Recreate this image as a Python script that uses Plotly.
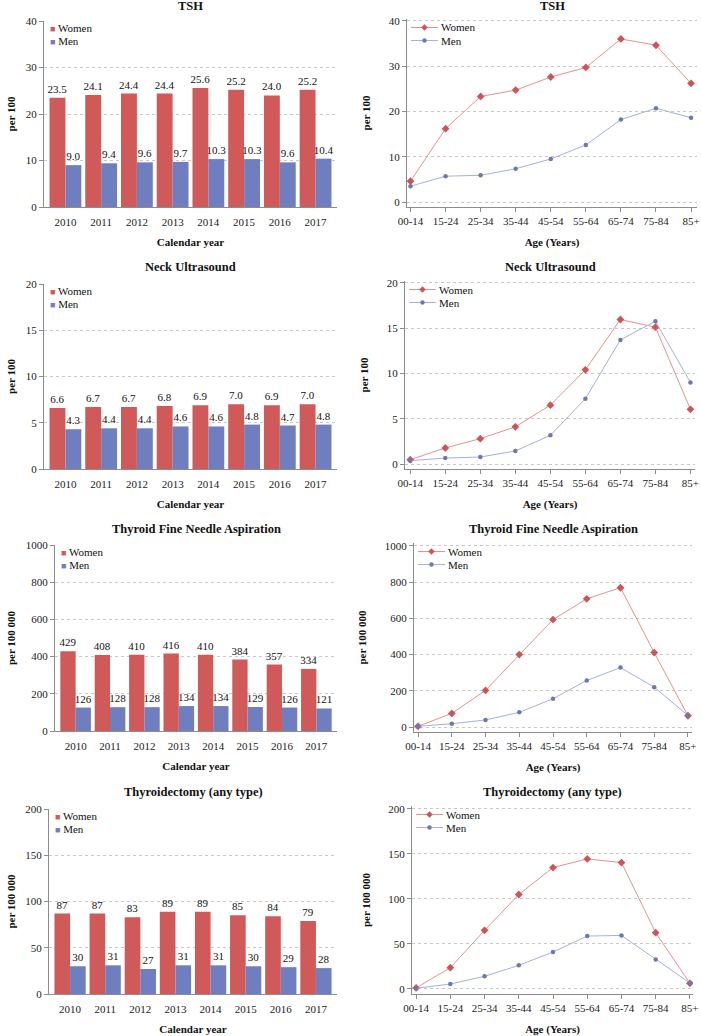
import plotly.graph_objects as go

W, H = 701, 1036

YEARS = ['2010', '2011', '2012', '2013', '2014', '2015', '2016', '2017']
AGES = ['00-14', '15-24', '25-34', '35-44', '45-54', '55-64', '65-74', '75-84', '85+']

# by calendar year
TSH_YEAR_WOMEN = [23.5, 24.1, 24.4, 24.4, 25.6, 25.2, 24.0, 25.2]
TSH_YEAR_MEN = [9.0, 9.4, 9.6, 9.7, 10.3, 10.3, 9.6, 10.4]
US_YEAR_WOMEN = [6.6, 6.7, 6.7, 6.8, 6.9, 7.0, 6.9, 7.0]
US_YEAR_MEN = [4.3, 4.4, 4.4, 4.6, 4.6, 4.8, 4.7, 4.8]
FNA_YEAR_WOMEN = [429, 408, 410, 416, 410, 384, 357, 334]
FNA_YEAR_MEN = [126, 128, 128, 134, 134, 129, 126, 121]
TX_YEAR_WOMEN = [87, 87, 83, 89, 89, 85, 84, 79]
TX_YEAR_MEN = [30, 31, 27, 31, 31, 30, 29, 28]

# by age group
TSH_AGE_WOMEN = [4.6, 16.2, 23.3, 24.7, 27.6, 29.7, 36.0, 34.6, 26.2]
TSH_AGE_MEN = [3.5, 5.7, 5.9, 7.35, 9.5, 12.6, 18.2, 20.7, 18.6]
US_AGE_WOMEN = [0.48, 1.77, 2.8, 4.1, 6.5, 10.4, 15.95, 15.1, 6.04]
US_AGE_MEN = [0.37, 0.66, 0.77, 1.44, 3.17, 7.2, 13.7, 15.76, 9.0]
FNA_AGE_WOMEN = [4, 75, 202, 400, 593, 708, 769, 411, 62]
FNA_AGE_MEN = [4, 18, 39, 81, 156, 257, 328, 220, 64]
TX_AGE_WOMEN = [1.1, 23.6, 65, 104.8, 134.7, 144.3, 140.2, 62.4, 6.3]
TX_AGE_MEN = [0.7, 5.5, 14, 26.2, 41, 58.7, 59.4, 32.8, 6.6]

TITLES = ['TSH', 'Neck Ultrasound', 'Thyroid Fine Needle Aspiration', 'Thyroidectomy (any type)']
UNITS = ['per 100', 'per 100', 'per 100 000', 'per 100 000']
YMAX = [40, 20, 1000, 200]
YSTEP = [10, 5, 200, 50]

WOMEN_BAR = '#D05A5A'
MEN_BAR = '#6F7EBF'
WOMEN_LINE = '#E89090'
WOMEN_MARK = '#CF5555'
MEN_LINE = '#A6B0DE'
MEN_MARK = '#6B78B6'
AXIS_COL = '#8C8C8C'
GRID_COL = '#C8C8C8'
FONT = 'Liberation Serif'

# plot boxes in pixels: left, top, right, bottom
LEFT_BOX = [(44, 21, 337, 207), (44, 284, 337, 469), (55, 545, 337, 731), (49, 809, 337, 994)]
RIGHT_BOX = [(407, 19, 697, 207), (405, 281, 695, 469), (414, 543, 692, 732), (412, 806, 693, 994)]
RIGHT_YPAD = [(-1.1, 40.4), (-0.55, 20.2), (-27.6, 1016), (-5.6, 203)]
RIGHT_XRANGE = [(-0.1, 8.17), (-0.15, 8.13), (-0.12, 8.12), (-0.12, 8.09)]
TITLE_Y = [6, 267, 529, 792]


def fx(p):
    return p / W


def fy(p):
    return 1 - p / H


bar_data = [(TSH_YEAR_WOMEN, TSH_YEAR_MEN), (US_YEAR_WOMEN, US_YEAR_MEN),
            (FNA_YEAR_WOMEN, FNA_YEAR_MEN), (TX_YEAR_WOMEN, TX_YEAR_MEN)]
line_data = [(TSH_AGE_WOMEN, TSH_AGE_MEN), (US_AGE_WOMEN, US_AGE_MEN),
             (FNA_AGE_WOMEN, FNA_AGE_MEN), (TX_AGE_WOMEN, TX_AGE_MEN)]

tick_font = dict(family=FONT, size=11, color='#222')
title_font = dict(family=FONT, size=11, color='#111', weight='bold')
key_font = dict(family=FONT, size=11, color='#111')

fig = go.Figure()
layout = {}
annotations = []
shapes = []


def line_key(x, y, name, line_col, mark_col, symbol):
    # small legend entry: line with a marker in the middle, then the label
    shapes.append(dict(type='line', xref='paper', yref='paper',
                       x0=fx(x), x1=fx(x + 27), y0=fy(y), y1=fy(y),
                       line=dict(color=line_col, width=1), layer='above'))
    cx, cy = x + 13.5, y
    if symbol == 'diamond':
        d = 3.3
        path = (f'M {fx(cx)},{fy(cy - d)} L {fx(cx + d)},{fy(cy)} '
                f'L {fx(cx)},{fy(cy + d)} L {fx(cx - d)},{fy(cy)} Z')
        shapes.append(dict(type='path', xref='paper', yref='paper', path=path,
                           fillcolor=mark_col, line=dict(width=0), layer='above'))
    else:
        r = 2.2
        shapes.append(dict(type='circle', xref='paper', yref='paper',
                           x0=fx(cx - r), x1=fx(cx + r), y0=fy(cy + r), y1=fy(cy - r),
                           fillcolor=mark_col, line=dict(width=0), layer='above'))
    annotations.append(dict(x=fx(x + 28), y=fy(y), xref='paper', yref='paper',
                            text=name, showarrow=False, xanchor='left', yanchor='middle',
                            font=key_font))


for i in range(4):
    li, ri = 2 * i + 1, 2 * i + 2
    fmt = '%{y:.1f}' if YMAX[i] <= 40 else '%{y:.0f}'

    for vals, name, col in ((bar_data[i][0], 'Women', WOMEN_BAR), (bar_data[i][1], 'Men', MEN_BAR)):
        fig.add_trace(go.Bar(
            x=YEARS, y=vals, name=name,
            marker=dict(color=col, line=dict(width=0)),
            texttemplate=fmt, textposition='outside', constraintext='none',
            textfont=dict(family=FONT, size=11, color='#111'),
            cliponaxis=False, showlegend=False,
            xaxis=f'x{li}', yaxis=f'y{li}',
        ))

    fig.add_trace(go.Scatter(
        x=AGES, y=line_data[i][0], name='Women', mode='lines+markers',
        line=dict(color=WOMEN_LINE, width=1),
        marker=dict(symbol='diamond', size=6, color=WOMEN_MARK),
        xaxis=f'x{ri}', yaxis=f'y{ri}', showlegend=False,
    ))
    fig.add_trace(go.Scatter(
        x=AGES, y=line_data[i][1], name='Men', mode='lines+markers',
        line=dict(color=MEN_LINE, width=1),
        marker=dict(symbol='circle', size=4.5, color=MEN_MARK),
        xaxis=f'x{ri}', yaxis=f'y{ri}', showlegend=False,
    ))

    ticks = list(range(0, YMAX[i] + 1, YSTEP[i]))
    common_y = dict(
        tickvals=ticks, tickfont=tick_font, ticks='outside', ticklen=4,
        tickcolor=AXIS_COL, showline=True, linecolor=AXIS_COL, linewidth=1,
        showgrid=True, gridcolor=GRID_COL, griddash='3px,3px', gridwidth=1,
        zeroline=False, automargin=False,
    )

    l0, t0, r0, b0 = LEFT_BOX[i]
    layout[f'xaxis{li}'] = dict(
        domain=[fx(l0), fx(r0)], anchor=f'y{li}', type='category',
        range=[-0.6, 7.6], tickfont=tick_font, ticks='outside', ticklen=5,
        tickcolor='rgba(0,0,0,0)', showline=True, linecolor=AXIS_COL,
        showgrid=False, zeroline=False, automargin=False,
        title=dict(text='Calendar year', font=title_font, standoff=11),
    )
    layout[f'yaxis{li}'] = dict(domain=[fy(b0), fy(t0)], anchor=f'x{li}',
                                range=[0, YMAX[i]],
                                title=dict(text=UNITS[i], font=title_font, standoff=7),
                                **common_y)

    l1, t1, r1, b1 = RIGHT_BOX[i]
    layout[f'xaxis{ri}'] = dict(
        domain=[fx(l1), fx(r1)], anchor=f'y{ri}', type='category',
        range=list(RIGHT_XRANGE[i]), tickfont=tick_font, ticks='outside', ticklen=4,
        tickcolor=AXIS_COL, showline=True, linecolor=AXIS_COL,
        showgrid=False, zeroline=False, automargin=False,
        title=dict(text='Age (Years)', font=title_font, standoff=12),
    )
    layout[f'yaxis{ri}'] = dict(domain=[fy(b1), fy(t1)], anchor=f'x{ri}',
                                range=list(RIGHT_YPAD[i]),
                                title=dict(text=UNITS[i], font=title_font, standoff=15),
                                **common_y)

    # panel titles
    for (a, _, c, _) in (LEFT_BOX[i], RIGHT_BOX[i]):
        annotations.append(dict(
            x=fx((a + c) / 2), y=fy(TITLE_Y[i]), xref='paper', yref='paper',
            text=TITLES[i], showarrow=False, xanchor='center', yanchor='middle',
            font=dict(family=FONT, size=12.5, color='#111', weight='bold'),
        ))

    # key for the bar panels
    for k, (name, col) in enumerate((('Women', WOMEN_BAR), ('Men', MEN_BAR))):
        annotations.append(dict(
            x=fx(l0 + 4), y=fy(t0 + 7 + 13 * k), xref='paper', yref='paper',
            text=f"<span style='color:{col};font-size:9px'>■</span> {name}",
            showarrow=False, xanchor='left', yanchor='middle', font=key_font,
        ))

    # key for the line panels
    line_key(l1 + 4, t1 + 8.5, 'Women', WOMEN_LINE, WOMEN_MARK, 'diamond')
    line_key(l1 + 4, t1 + 21.5, 'Men', MEN_LINE, MEN_MARK, 'circle')

fig.update_layout(
    width=W, height=H,
    margin=dict(l=0, r=0, t=0, b=0),
    paper_bgcolor='white', plot_bgcolor='white',
    barmode='group', bargap=0.11, bargroupgap=0,
    showlegend=False,
    annotations=annotations,
    shapes=shapes,
    **layout,
)

fig.write_html('out.html', config={'displayModeBar': False},
               post_script="document.body.style.margin = '0';")
